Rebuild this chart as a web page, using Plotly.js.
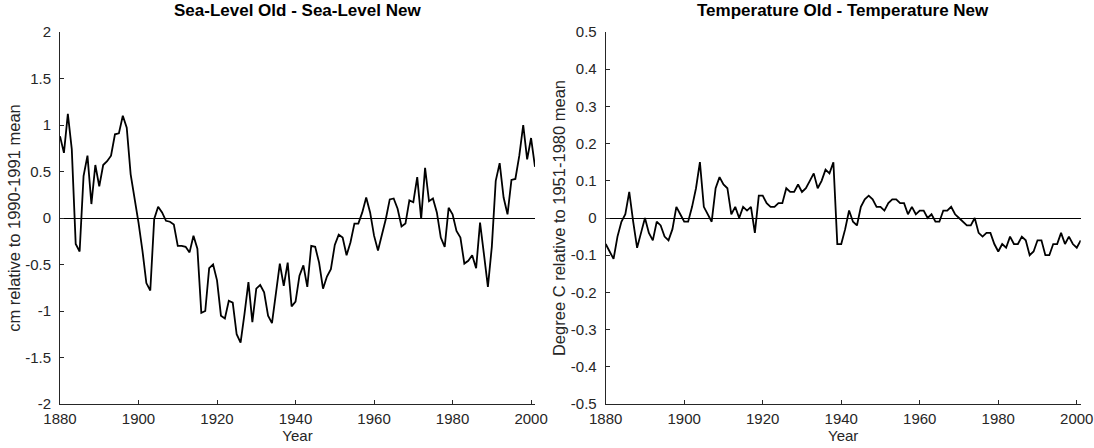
<!DOCTYPE html>
<html>
<head>
<meta charset="utf-8">
<script src="https://cdn.plot.ly/plotly-3.0.1.min.js"></script>
<style>
html,body{margin:0;padding:0;background:#fff;}
#chart{width:1094px;height:448px;}
</style>
</head>
<body>
<div id="chart"></div>
<script>
const years = [1880,1881,1882,1883,1884,1885,1886,1887,1888,1889,
1890,1891,1892,1893,1894,1895,1896,1897,1898,1899,
1900,1901,1902,1903,1904,1905,1906,1907,1908,1909,
1910,1911,1912,1913,1914,1915,1916,1917,1918,1919,
1920,1921,1922,1923,1924,1925,1926,1927,1928,1929,
1930,1931,1932,1933,1934,1935,1936,1937,1938,1939,
1940,1941,1942,1943,1944,1945,1946,1947,1948,1949,
1950,1951,1952,1953,1954,1955,1956,1957,1958,1959,
1960,1961,1962,1963,1964,1965,1966,1967,1968,1969,
1970,1971,1972,1973,1974,1975,1976,1977,1978,1979,
1980,1981,1982,1983,1984,1985,1986,1987,1988,1989,
1990,1991,1992,1993,1994,1995,1996,1997,1998,1999,
2000,2001];

const seaLevelDiff = [0.88,0.70,1.12,0.74,-0.28,-0.36,0.45,0.67,0.15,0.57,
0.34,0.57,0.61,0.67,0.90,0.91,1.10,0.97,0.47,0.22,
-0.05,-0.35,-0.70,-0.78,-0.01,0.12,0.06,-0.03,-0.04,-0.07,
-0.30,-0.30,-0.31,-0.37,-0.19,-0.33,-1.02,-1.00,-0.54,-0.50,
-0.67,-1.05,-1.08,-0.89,-0.91,-1.25,-1.34,-1.03,-0.69,-1.12,
-0.76,-0.72,-0.80,-1.05,-1.13,-0.81,-0.49,-0.73,-0.48,-0.95,
-0.90,-0.62,-0.51,-0.74,-0.30,-0.31,-0.48,-0.76,-0.63,-0.55,
-0.29,-0.18,-0.21,-0.40,-0.26,-0.06,-0.06,0.06,0.22,0.06,
-0.19,-0.35,-0.19,-0.01,0.20,0.21,0.10,-0.09,-0.06,0.19,
0.17,0.44,-0.01,0.54,0.18,0.21,0.06,-0.21,-0.31,0.11,
0.04,-0.14,-0.21,-0.49,-0.46,-0.40,-0.54,-0.05,-0.39,-0.74,
-0.31,0.40,0.59,0.22,0.04,0.41,0.42,0.67,1.00,0.63,
0.86,0.55];

const tempDiff = [-0.07,-0.09,-0.11,-0.05,-0.01,0.01,0.07,-0.01,-0.08,-0.04,
0.00,-0.04,-0.06,-0.01,-0.02,-0.05,-0.06,-0.03,0.03,0.01,
-0.01,-0.01,0.03,0.08,0.15,0.03,0.01,-0.01,0.08,0.11,
0.09,0.08,0.01,0.03,0.00,0.03,0.02,0.03,-0.04,0.06,
0.06,0.04,0.03,0.03,0.04,0.04,0.08,0.07,0.07,0.09,
0.07,0.08,0.10,0.12,0.08,0.10,0.13,0.12,0.15,-0.07,
-0.07,-0.03,0.02,-0.01,-0.02,0.03,0.05,0.06,0.05,0.03,
0.03,0.02,0.04,0.05,0.05,0.04,0.04,0.01,0.03,0.01,
0.02,0.02,0.00,0.01,-0.01,-0.01,0.02,0.02,0.03,0.01,
0.00,-0.01,-0.02,-0.02,0.00,-0.04,-0.05,-0.04,-0.04,-0.07,
-0.09,-0.07,-0.08,-0.05,-0.07,-0.07,-0.05,-0.06,-0.10,-0.09,
-0.06,-0.06,-0.10,-0.10,-0.07,-0.07,-0.04,-0.07,-0.05,-0.07,
-0.08,-0.06];

const xTickVals = [1880,1900,1920,1940,1960,1980,2000];
const xTickText = ["1880","1900","1920","1940","1960","1980","2000"];
const seaTickVals = [-2,-1.5,-1,-0.5,0,0.5,1,1.5,2];
const seaTickText = ["-2","-1.5","-1","-0.5","0","0.5","1","1.5","2"];
const tempTickVals = [-0.5,-0.4,-0.3,-0.2,-0.1,0,0.1,0.2,0.3,0.4,0.5];
const tempTickText = ["-0.5","-0.4","-0.3","-0.2","-0.1","0","0.1","0.2","0.3","0.4","0.5"];

const titles = ["Sea-Level Old - Sea-Level New","Temperature Old - Temperature New"];
const yTitles = ["cm relative to 1990-1991 mean","Degree C relative to 1951-1980 mean"];
const xTitle = "Year";

const FONT = "Liberation Sans, Arial, Helvetica, sans-serif";
const AXC = "#262626";

const traces = [
  {x: years, y: seaLevelDiff, xaxis:"x", yaxis:"y", type:"scatter", mode:"lines",
   line:{color:"#000", width:1.8}, hoverinfo:"skip"},
  {x: years, y: tempDiff, xaxis:"x2", yaxis:"y2", type:"scatter", mode:"lines",
   line:{color:"#000", width:1.8}, hoverinfo:"skip"}
];

function xax(domain, anchor){
  return {domain: domain, anchor: anchor, range:[1880,2001],
    tickmode:"array", tickvals:xTickVals, ticktext:xTickText,
    ticks:"inside", ticklen:4, tickcolor:AXC, tickwidth:1,
    ticklabelstandoff:1,
    showline:true, linecolor:AXC, linewidth:1, mirror:false,
    showgrid:false, zeroline:false,
    tickfont:{family:FONT, size:15, color:AXC},
    title:{text:xTitle, font:{family:FONT, size:15, color:AXC}, standoff:0}};
}
function yax(domain, anchor, range, tv, tt, title, standoff){
  return {domain: domain, anchor: anchor, range: range,
    tickmode:"array", tickvals:tv, ticktext:tt,
    ticks:"inside", ticklen:4, tickcolor:AXC, tickwidth:1,
    ticklabelstandoff:5,
    showline:true, linecolor:AXC, linewidth:1, mirror:false,
    showgrid:false, zeroline:true, zerolinecolor:"#000", zerolinewidth:1,
    tickfont:{family:FONT, size:15, color:AXC},
    title:{text:title, font:{family:FONT, size:16.5, color:AXC}, standoff:standoff}};
}

const W = 1094, H = 448;
const d1 = [60/W, 535/W], d2 = [605.7/W, 1080.7/W];
const dy = [(H-404)/H, (H-32)/H];

const layout = {
  width: W, height: H,
  margin:{l:0, r:0, t:0, b:0},
  paper_bgcolor:"#fff", plot_bgcolor:"#fff",
  showlegend:false,
  xaxis: xax(d1, "y"),
  yaxis: yax(dy, "x", [-2,2], seaTickVals, seaTickText, yTitles[0], 0),
  xaxis2: xax(d2, "y2"),
  yaxis2: yax(dy, "x2", [-0.5,0.5], tempTickVals, tempTickText, yTitles[1], 1),
  annotations: [
    {text:"<b>"+titles[0]+"</b>", xref:"paper", yref:"paper",
     x:(d1[0]+d1[1])/2, y:(H-10)/H, xanchor:"center", yanchor:"middle",
     showarrow:false, font:{family:FONT, size:17, color:"#000"}},
    {text:"<b>"+titles[1]+"</b>", xref:"paper", yref:"paper",
     x:(d2[0]+d2[1])/2, y:(H-10)/H, xanchor:"center", yanchor:"middle",
     showarrow:false, font:{family:FONT, size:17, color:"#000"}}
  ]
};

Plotly.newPlot("chart", traces, layout, {staticPlot:true, displayModeBar:false});
</script>
</body>
</html>
